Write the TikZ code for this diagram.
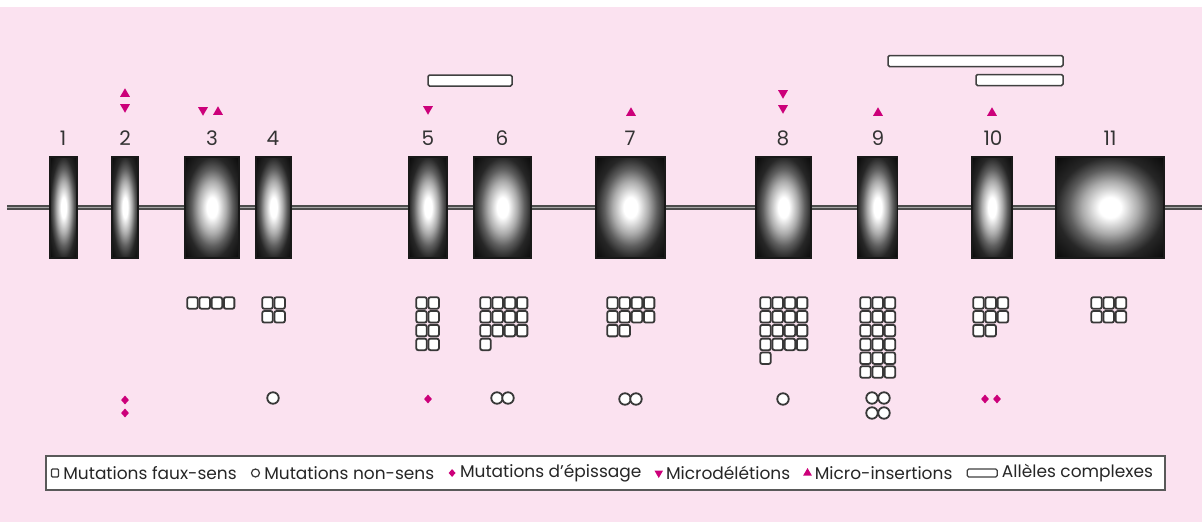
\documentclass[tikz,border=0pt]{standalone}
\usepackage{fontspec}
\setmainfont{Poppins}
\usetikzlibrary{positioning,shapes.geometric}
\definecolor{bgpink}{RGB}{251,226,240}
\definecolor{mag}{RGB}{204,0,122}
\pgfdeclareradialshading{exonshade}{\pgfpoint{0bp}{0bp}}{color(0bp)=(white); color(5bp)=(white); color(13bp)=(black!33); color(19bp)=(black!63); color(23bp)=(black!78); color(25bp)=(black!85); color(36bp)=(black!97); color(50bp)=(black!97)}
\tikzset{
  exon/.style={rectangle, draw=black!90, line width=1.2pt, shading=exonshade, inner sep=0pt, minimum height=101pt},
  enum/.style={font=\fontsize{20}{20}\selectfont, text=black!80, inner sep=0pt},
  fs/.style={rectangle, rounded corners=2pt, draw=black!78, line width=1.8pt, fill=white, minimum width=10.5pt, minimum height=11.5pt, inner sep=0pt},
  ns/.style={circle, draw=black!78, line width=1.8pt, fill=white, minimum size=11.5pt, inner sep=0pt},
  ep/.style={diamond, fill=mag, minimum width=8pt, minimum height=9pt, inner sep=0pt},
  tup/.style={regular polygon, regular polygon sides=3, fill=mag, minimum size=11.5pt, inner sep=0pt},
  tdown/.style={tup, shape border rotate=180},
  cx/.style={rectangle, rounded corners=1.5pt, draw=black!75, line width=1.5pt, fill=white, inner sep=0pt},
  intron/.style={line width=4.5pt, draw=black!70},
  introncore/.style={line width=1.6pt, draw=black!35},
  legtext/.style={font=\fontsize{17}{17}\selectfont, text=black!85, inner sep=0pt, anchor=west},
}
\newcommand{\sqgrid}[3]{%
  \foreach \n [count=\r from 0] in {#3}{%
    \foreach \c in {1,...,\n}{%
      \node[fs] (#1-\r-\c) at ({#2+(\c-1)*12.2}, {303+\r*13.8}) {};
    }%
  }%
}
\begin{document}
\begin{tikzpicture}[x=1pt,y=-1pt]
\useasboundingbox (0,0) rectangle (1202,522);
\fill[white] (0,0) rectangle (1202,522);
\fill[bgpink] (0,7) rectangle (1202,522);

% intron line
\coordinate (ls) at (7,207.5);
\coordinate (le) at (1202,207.5);
\draw[intron] (ls) -- (le);
\draw[introncore] (ls) -- (le);

% exons
\node[exon, minimum width=27pt] (e1) at (63.5,207.5) {};
\node[exon, minimum width=26pt] (e2) at (125,207.5) {};
\node[exon, minimum width=54pt] (e3) at (212,207.5) {};
\node[exon, minimum width=35pt] (e4) at (273.5,207.5) {};
\node[exon, minimum width=38pt] (e5) at (428,207.5) {};
\node[exon, minimum width=57pt] (e6) at (502.5,207.5) {};
\node[exon, minimum width=69pt] (e7) at (630.5,207.5) {};
\node[exon, minimum width=55pt] (e8) at (783.5,207.5) {};
\node[exon, minimum width=40pt] (e9) at (877.5,207.5) {};
\node[exon, minimum width=40pt] (e10) at (992,207.5) {};
\node[exon, minimum width=108pt] (e11) at (1110,207.5) {};

% exon numbers
\node[enum] (n1) at (63,138) {1};
\node[enum] (n2) at (125,138) {2};
\node[enum] (n3) at (212,138) {3};
\node[enum] (n4) at (273,138) {4};
\node[enum] (n5) at (428,138) {5};
\node[enum] (n6) at (502,138) {6};
\node[enum] (n7) at (630,138) {7};
\node[enum] (n8) at (783,138) {8};
\node[enum] (n9) at (878,138) {9};
\node[enum] (n10) at (993,138) {10};
\node[enum] (n11) at (1110,138) {11};

% micro-deletions / insertions
\node[tup] (t2a) at (125,94) {};
\node[tdown] (t2b) at (125,107) {};
\node[tdown] (t3a) at (203,110) {};
\node[tup] (t3b) at (218,112) {};
\node[tdown] (t5) at (428,109) {};
\node[tup] (t7) at (631,113) {};
\node[tdown] (t8a) at (783,93) {};
\node[tdown] (t8b) at (783,108) {};
\node[tup] (t9) at (878,113) {};
\node[tup] (t10) at (992,113) {};

% complex alleles
\node[cx, minimum width=84pt, minimum height=11pt] (c1) at (470,80.5) {};
\node[cx, minimum width=175pt, minimum height=11pt] (c2) at (975.5,61) {};
\node[cx, minimum width=87pt, minimum height=11pt] (c3) at (1019.5,80) {};

% missense grids
\sqgrid{g3}{192.5}{4}
\sqgrid{g4}{267.5}{2,2}
\sqgrid{g5}{421.5}{2,2,2,2}
\sqgrid{g6}{485.5}{4,4,4,1}
\sqgrid{g7}{612.5}{4,4,2}
\sqgrid{g8}{765.5}{4,4,4,4,1}
\sqgrid{g9}{865.5}{3,3,3,3,3,3}
\sqgrid{g10}{978.5}{3,3,2}
\sqgrid{g11}{1096.5}{3,3}

% nonsense
\node[ns] (o4) at (273,398) {};
\node[ns] (o6a) at (497,398) {};
\node[ns] (o6b) at (508,398) {};
\node[ns] (o7a) at (625,399) {};
\node[ns] (o7b) at (636,399) {};
\node[ns] (o8) at (783,399) {};
\node[ns] (o9a) at (872,398) {};
\node[ns] (o9b) at (884,398) {};
\node[ns] (o9c) at (872,413) {};
\node[ns] (o9d) at (884,413) {};

% splice
\node[ep] (d2a) at (125,400) {};
\node[ep] (d2b) at (125,413) {};
\node[ep] (d5) at (428,399) {};
\node[ep] (d10a) at (985,399) {};
\node[ep] (d10b) at (997,399) {};

% legend
\node[rectangle, draw=black!65, line width=1.5pt, fill=white, minimum width=1119pt, minimum height=34pt, inner sep=0pt] (leg) at (605.5,473) {};
\node[fs, minimum width=7pt, minimum height=8pt, line width=1.2pt, rounded corners=1pt] (li1) at (55,473) {};
\node[legtext, right=4pt of li1] (lt1) {Mutations faux-sens};
\node[ns, minimum size=8pt, line width=1.2pt, right=14pt of lt1] (li2) {};
\node[legtext, right=4pt of li2] (lt2) {Mutations non-sens};
\node[ep, minimum width=7pt, minimum height=8pt, right=14pt of lt2] (li3) {};
\node[legtext, right=4pt of li3] (lt3) {Mutations d’épissage};
\node[tdown, minimum size=10pt, right=14pt of lt3] (li4) {};
\node[legtext, right=4pt of li4] (lt4) {Microdélétions};
\node[tup, minimum size=10pt, right=14pt of lt4] (li5) {};
\node[legtext, right=4pt of li5] (lt5) {Micro-insertions};
\node[cx, minimum width=30pt, minimum height=8pt, line width=1.2pt, right=14pt of lt5] (li6) {};
\node[legtext, right=4pt of li6] (lt6) {Allèles complexes};
\end{tikzpicture}
\end{document}
